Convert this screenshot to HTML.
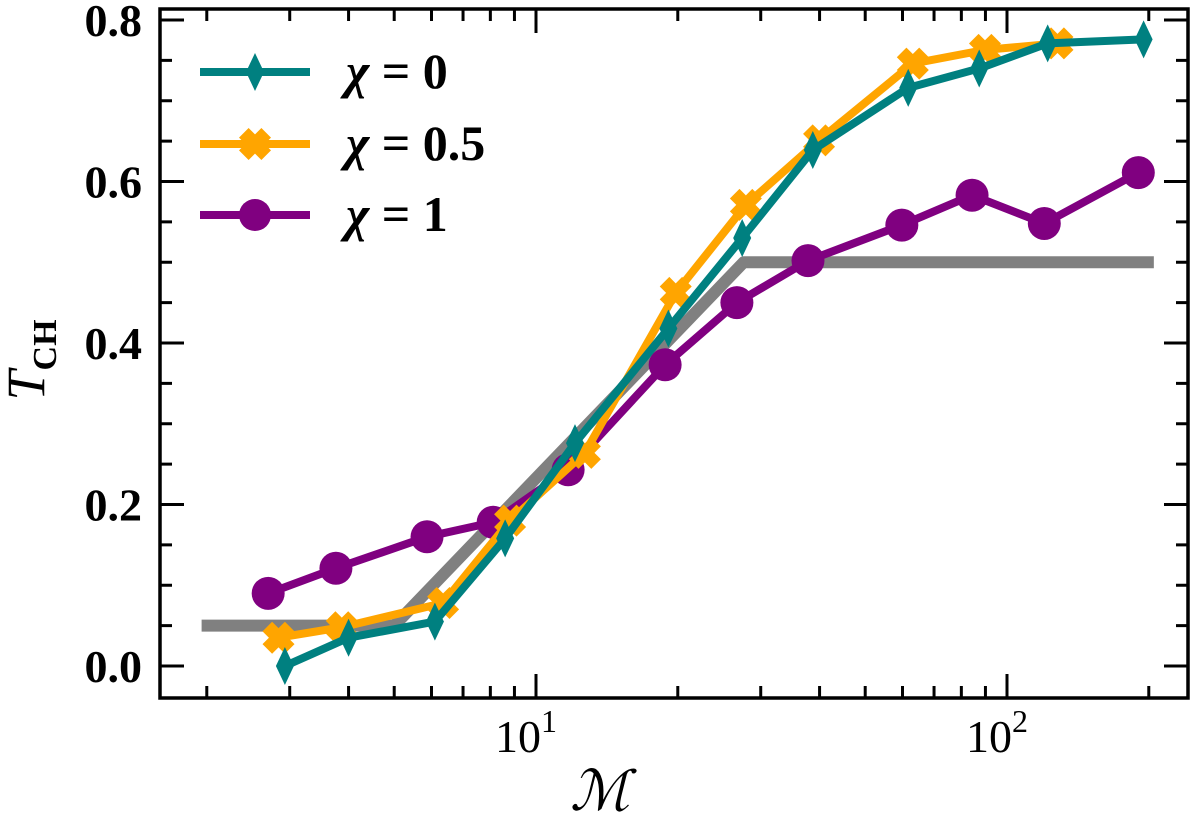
<!DOCTYPE html>
<html><head><meta charset="utf-8"><style>
html,body{margin:0;padding:0;background:#fff;}
svg{display:block;}
text{font-family:"Liberation Serif","DejaVu Serif",serif;fill:#000;}
.tl{font-size:46px;font-weight:bold;}
</style></head><body>
<svg id="chart" width="1200" height="824" viewBox="0 0 1200 824">
<g id="grayg"></g>
<g id="series"></g>
<rect x="160" y="9" width="1028" height="689" fill="none" stroke="#000" stroke-width="3.5"/>
<g id="ticks"></g>
<g>
  <g>
    <line x1="200" y1="72" x2="310" y2="72" stroke="#008080" stroke-width="8"/>
    <polygon points="255,53 264,72 255,91 246,72" fill="#008080"/>
    <text x="346" y="88" font-size="50" font-style="italic" font-weight="bold">χ <tspan font-style="normal">= 0</tspan></text>
  </g>
  <g>
    <line x1="200" y1="144" x2="310" y2="144" stroke="#FFA500" stroke-width="8"/>
    <path id="legX" fill="#FFA500"/>
    <text x="346" y="160" font-size="50" font-style="italic" font-weight="bold">χ <tspan font-style="normal">= 0.5</tspan></text>
  </g>
  <g>
    <line x1="200" y1="215" x2="310" y2="215" stroke="#800080" stroke-width="8"/>
    <circle cx="255" cy="215" r="16" fill="#800080"/>
    <text x="346" y="231" font-size="50" font-style="italic" font-weight="bold">χ <tspan font-style="normal">= 1</tspan></text>
  </g>
</g>
<text x="600" y="810" font-size="56" font-style="italic" text-anchor="middle">ℳ</text>
<g transform="translate(44,360) rotate(-90)">
  <text x="0" y="0" font-size="54" font-style="italic" text-anchor="middle">T<tspan font-size="34" font-style="normal" font-weight="bold" dy="12">CH</tspan></text>
</g>
</svg>
<script>
const yTicks=[0.0,0.2,0.4,0.6,0.8];
const yTickLabels=["0.0","0.2","0.4","0.6","0.8"];
const xMajor=[10,100];
const xMajorLabels=["1","2"];
const teal_M=[2.93,4.0,6.1,8.6,12.1,19.1,27.4,38.7,61.7,87.3,122,195];
const teal_T=[0.0,0.035,0.055,0.158,0.276,0.418,0.53,0.639,0.716,0.74,0.771,0.776];
const orange_M=[2.84,3.87,6.35,8.81,12.7,19.8,27.9,39.9,63.1,89.8,128];
const orange_T=[0.035,0.048,0.078,0.18,0.264,0.462,0.571,0.651,0.746,0.763,0.771];
const purple_M=[2.70,3.76,5.87,8.11,11.7,18.8,26.7,37.8,59.8,84.3,120,190];
const purple_T=[0.09,0.121,0.16,0.178,0.243,0.373,0.45,0.502,0.546,0.583,0.548,0.611];
const gray_M=[1.95,5.0,27.6,205];
const gray_T=[0.05,0.05,0.5,0.5];

const NS="http://www.w3.org/2000/svg";
function X(m){return 536+(Math.log10(m)-1)*471;}
function Y(v){return 666-v*807.5;}
function mk(tag,attrs,parent){const e=document.createElementNS(NS,tag);for(const k in attrs)e.setAttribute(k,attrs[k]);parent.appendChild(e);return e;}
function xPath(cx,cy,s){const a=s*0.5,w=s*0.3;
 return `M${cx-a},${cy-a+w}L${cx-a+w},${cy-a}L${cx},${cy-w}L${cx+a-w},${cy-a}L${cx+a},${cy-a+w}L${cx+w},${cy}L${cx+a},${cy+a-w}L${cx+a-w},${cy+a}L${cx},${cy+w}L${cx-a+w},${cy+a}L${cx-a},${cy+a-w}L${cx-w},${cy}Z`;}
document.getElementById('legX').setAttribute('d',xPath(255,144,32));

const tk=document.getElementById('ticks');
for(let v=0;v<=0.801;v+=0.05){
  const y=Y(v);const major=Math.abs(v/0.2-Math.round(v/0.2))<1e-6;const L=major?24:12;
  let l=mk('line',{x1:160,y1:y,x2:160+L,y2:y,stroke:'#000','stroke-width':3},tk);
  
  
  l=mk('line',{x1:1188,y1:y,x2:1188-L,y2:y,stroke:'#000','stroke-width':3},tk);
  
  
}
yTicks.forEach((v,i)=>{const t=mk('text',{x:142,y:Y(v)+16,'text-anchor':'end',class:'tl'},tk);t.textContent=yTickLabels[i];
  
  });
for(let d=1;d<=100;d*=10){for(let k=1;k<10;k++){const m=k*d;const x=X(m);if(x<162||x>1186)continue;const L=k==1?24:12;
  let l=mk('line',{x1:x,y1:698,x2:x,y2:698-L,stroke:'#000','stroke-width':3},tk);
  
  
  l=mk('line',{x1:x,y1:9,x2:x,y2:9+L,stroke:'#000','stroke-width':3},tk);
  
  }}
xMajor.forEach((m,i)=>{const t=mk('text',{x:X(m)-10,y:752,'text-anchor':'middle','font-size':46},tk);t.textContent='10';
  
  
  const s=mk('tspan',{'font-size':32,dy:-20},t);s.textContent=xMajorLabels[i];});
const gg=document.getElementById('grayg');
const gp=mk('polyline',{points:gray_M.map((m,i)=>X(m)+','+Y(gray_T[i])).join(' '),fill:'none',stroke:'#808080','stroke-width':12,'stroke-linejoin':'round'},gg);


const sg=document.getElementById('series');
function series(M,T,color,name,marker){
  const g=mk('g',{},sg);
  
  
  mk('polyline',{points:M.map((m,i)=>X(m)+','+Y(T[i])).join(' '),fill:'none',stroke:color,'stroke-width':8,'stroke-linejoin':'round'},g);
  M.forEach((m,i)=>{const x=X(m),y=Y(T[i]);let e;
    if(marker=='d')e=mk('polygon',{points:`${x},${y-19} ${x+9},${y} ${x},${y+19} ${x-9},${y}`,fill:color},g);
    else if(marker=='X')e=mk('path',{d:xPath(x,y,32),fill:color},g);
    else e=mk('circle',{cx:x,cy:y,r:16.5,fill:color},g);
    
    });
}
series(purple_M,purple_T,'#800080','series-chi1','o');
series(orange_M,orange_T,'#FFA500','series-chi05','X');
series(teal_M,teal_T,'#008080','series-chi0','d');
</script>
</body></html>
